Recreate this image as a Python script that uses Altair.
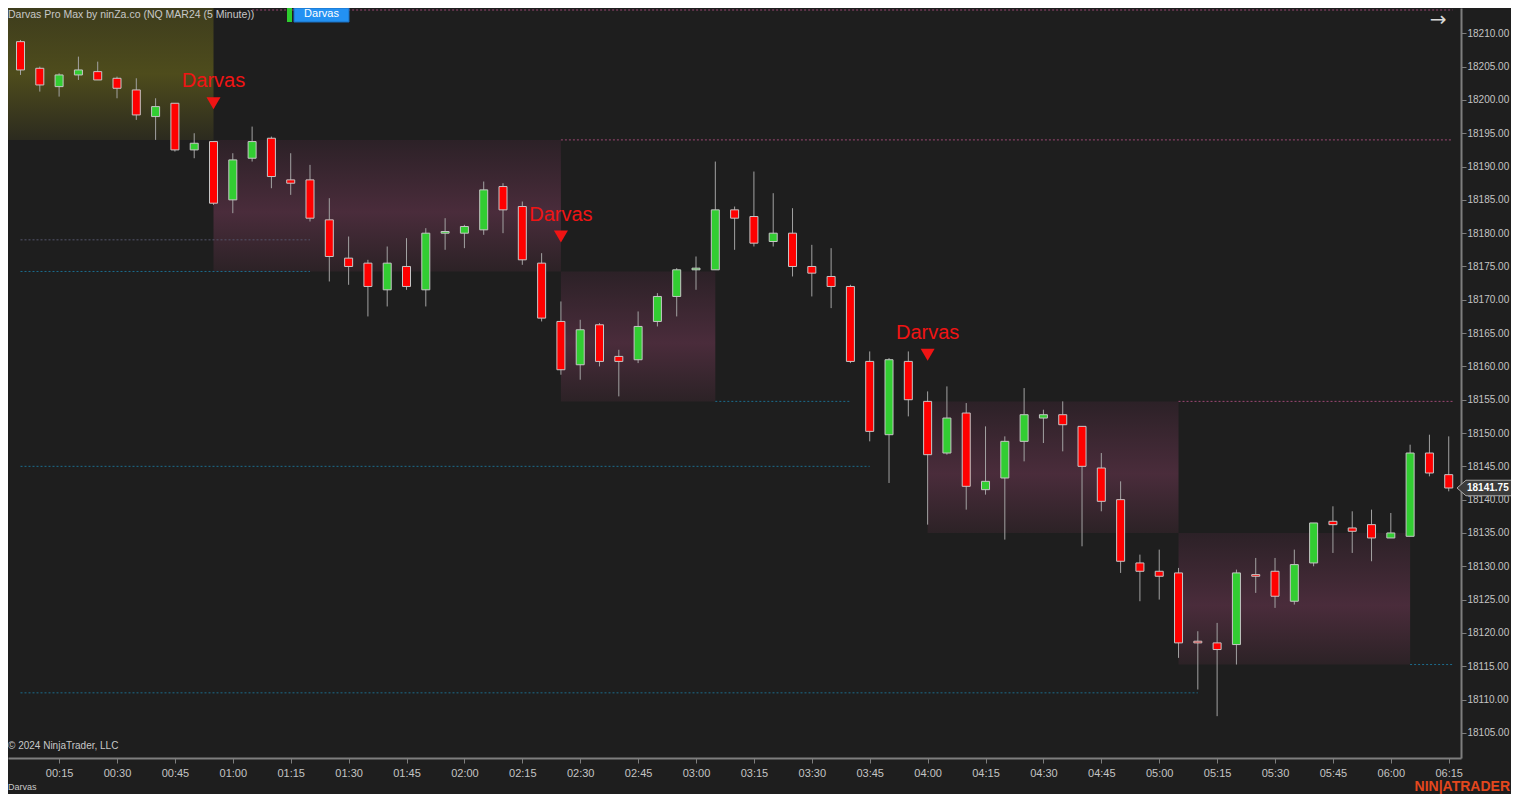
import altair as alt
import pandas as pd

# ---------------- data ----------------
# bar times (minutes after midnight), 5-minute bars 00:05 ... 06:15
bar_minutes = [5 * k for k in range(1, 76)]

opens = [18208.75, 18204.75, 18202.0, 18203.75, 18204.25, 18203.25, 18201.5, 18197.5, 18199.5, 18192.5,
         18193.75, 18185.0, 18191.25, 18194.25, 18188.0, 18188.0, 18182.0, 18176.25, 18175.5, 18171.5,
         18175.0, 18171.5, 18180.0, 18180.0, 18180.5, 18187.0, 18184.0, 18175.5, 18166.75, 18160.25,
         18166.25, 18161.5, 18161.0, 18166.75, 18170.5, 18174.5, 18174.5, 18183.5, 18182.5, 18178.75,
         18180.0, 18175.0, 18173.5, 18172.0, 18160.75, 18149.75, 18160.75, 18154.75, 18147.0, 18153.0,
         18141.5, 18143.25, 18148.75, 18152.25, 18152.75, 18151.0, 18144.75, 18140.0, 18130.5, 18129.25,
         18129.0, 18118.75, 18118.5, 18118.25, 18128.75, 18129.25, 18124.75, 18130.5, 18136.75, 18135.75,
         18136.25, 18134.25, 18134.5, 18147.0, 18143.75]
highs = [18209.0, 18205.0, 18204.0, 18206.5, 18205.75, 18203.5, 18203.25, 18200.25, 18199.5, 18195.0,
         18193.75, 18192.0, 18196.0, 18194.5, 18192.0, 18190.25, 18185.25, 18179.5, 18176.0, 18178.0,
         18179.25, 18180.75, 18182.25, 18181.25, 18187.75, 18187.5, 18184.75, 18177.0, 18169.75, 18167.0,
         18166.5, 18162.5, 18168.25, 18171.0, 18174.75, 18176.5, 18190.75, 18184.0, 18189.25, 18186.0,
         18183.75, 18178.25, 18177.75, 18172.25, 18162.25, 18161.25, 18162.25, 18156.25, 18157.0, 18154.5,
         18151.0, 18149.5, 18156.75, 18153.5, 18154.75, 18151.0, 18147.0, 18142.75, 18131.75, 18132.5,
         18129.75, 18120.25, 18121.5, 18129.5, 18131.25, 18131.25, 18132.5, 18136.5, 18139.0, 18138.25,
         18138.5, 18138.0, 18148.25, 18149.75, 18149.5]
lows = [18203.75, 18201.25, 18200.5, 18203.0, 18203.0, 18200.25, 18197.0, 18194.0, 18192.25, 18191.25,
        18184.25, 18183.0, 18190.75, 18186.75, 18185.75, 18181.75, 18172.75, 18172.25, 18167.5, 18169.0,
        18171.5, 18169.0, 18177.5, 18177.75, 18179.75, 18180.0, 18175.25, 18166.75, 18158.75, 18158.0,
        18160.0, 18155.5, 18160.5, 18166.0, 18167.5, 18171.5, 18174.5, 18177.5, 18178.0, 18178.0,
        18173.5, 18170.5, 18168.75, 18160.5, 18148.75, 18142.5, 18152.5, 18136.25, 18146.75, 18138.5,
        18140.75, 18134.0, 18145.75, 18148.5, 18147.25, 18133.0, 18138.25, 18129.0, 18124.75, 18125.0,
        18116.25, 18111.5, 18107.5, 18115.25, 18126.0, 18123.75, 18124.25, 18130.0, 18132.0, 18132.0,
        18130.75, 18134.25, 18134.5, 18143.5, 18141.25]
closes = [18204.5, 18202.25, 18203.75, 18204.5, 18203.0, 18201.75, 18197.75, 18199.0, 18192.5, 18193.5,
          18184.5, 18191.0, 18193.75, 18188.5, 18187.5, 18182.25, 18176.5, 18175.0, 18172.0, 18175.5,
          18172.0, 18180.0, 18180.25, 18181.0, 18186.5, 18183.5, 18176.0, 18167.25, 18159.5, 18165.5,
          18160.75, 18160.75, 18166.0, 18170.5, 18174.5, 18174.75, 18183.5, 18182.25, 18178.5, 18180.0,
          18175.0, 18174.0, 18172.0, 18160.75, 18150.25, 18161.0, 18155.0, 18146.75, 18152.25, 18142.0,
          18142.75, 18148.75, 18152.75, 18152.75, 18151.25, 18145.0, 18139.75, 18130.75, 18129.25, 18128.5,
          18118.5, 18118.5, 18117.5, 18129.0, 18128.5, 18125.5, 18130.25, 18136.5, 18136.25, 18135.25,
          18134.25, 18135.0, 18147.0, 18144.0, 18141.75]

# Darvas boxes (start minute, end minute, top, bottom)
box_start = [55, 145, 240, 305]
box_end = [145, 185, 305, 365]
box_top = [18194.0, 18174.25, 18154.75, 18135.0]
box_bottom = [18174.25, 18154.75, 18135.0, 18115.25]
# initial (olive) box
olive_start = [0]
olive_end = [55]
olive_top = [18216.0]
olive_bottom = [18194.0]

# dotted level lines
lvl_start = [65, 145, 5, 5, 185, 5, 305, 365, 5]
lvl_end = [376, 376, 80, 80, 220, 225, 376, 376, 310]
lvl_price = [18213.5, 18194.0, 18179.0, 18174.25, 18154.75, 18145.0, 18154.75, 18115.25, 18111.0]
lvl_color = ["#9c4874", "#9c4874", "#54566c", "#1c6c8c", "#1c6c8c", "#1c6c8c", "#9c4874", "#1c6c8c", "#1c6c8c"]

# Darvas signal markers
sig_minute = [55, 145, 240]
sig_price = [18199.5, 18179.5, 18161.75]
sig_label = ["Darvas", "Darvas", "Darvas"]

last_price = [18141.75]

x_ticks = list(range(15, 376, 15))
y_ticks = list(range(18105, 18211, 5))

# ---------------- build ----------------
df = pd.DataFrame({"t": bar_minutes, "o": opens, "h": highs, "l": lows, "c": closes})
df["dir"] = ["up" if c >= o else "down" for o, c in zip(opens, closes)]
boxes = pd.DataFrame({"s": box_start, "e": box_end, "top": box_top, "bot": box_bottom})
olive = pd.DataFrame({"s": olive_start, "e": olive_end, "top": olive_top, "bot": olive_bottom})
levels = pd.DataFrame({"s": lvl_start, "e": lvl_end, "p": lvl_price, "col": lvl_color})
sigs = pd.DataFrame({"t": sig_minute, "p": sig_price, "lab": sig_label})
lastdf = pd.DataFrame({"p": last_price, "lab": [f"{v:.2f}" for v in last_price]})

XDOM = [1.76, 378.18]
YDOM = [18101.22, 18213.8]
AXC = "#7e7e7e"
LBL = "#c4c4c4"
FONT = "Liberation Sans"

xaxis = alt.Axis(values=x_ticks, labelExpr="timeFormat(datetime(2024, 0, 1, 0, datum.value), '%H:%M')",
                 title=None, grid=False, domainColor=AXC, domainWidth=2, tickColor=AXC, tickSize=5,
                 labelColor=LBL, labelFont=FONT, labelFontSize=11, labelPadding=4, labelFlush=False)
yaxis = alt.Axis(orient="right", values=y_ticks, format=".2f", title=None, grid=False,
                 domainColor=AXC, domainWidth=2, tickColor=AXC, tickSize=5, labelColor=LBL,
                 labelFont=FONT, labelFontSize=10, labelPadding=1)
xs = alt.Scale(domain=XDOM, nice=False, zero=False, padding=0)
ys = alt.Scale(domain=YDOM, nice=False, zero=False, padding=0)


def X(f):
    return alt.X(f, type="quantitative", scale=xs, axis=xaxis)


def Y(f):
    return alt.Y(f, type="quantitative", scale=ys, axis=yaxis)


def grad(c_edge1, c_mid, c_edge2):
    return alt.Gradient(gradient="linear", x1=0, x2=0, y1=0, y2=1,
                        stops=[alt.GradientStop(color=c_edge1, offset=0),
                               alt.GradientStop(color=c_mid, offset=0.55),
                               alt.GradientStop(color=c_edge2, offset=1)])


olive_layer = alt.Chart(olive).mark_rect(clip=True, color=grad("#3a391d", "#4e4c1c", "#2c2b1f")).encode(
    x=X("s"), x2="e", y=Y("top"), y2="bot")
box_layer = alt.Chart(boxes).mark_rect(clip=True, color=grad("#2c2127", "#4a2c3b", "#2c2226")).encode(
    x=X("s"), x2="e", y=Y("top"), y2="bot")
lvl_layer = alt.Chart(levels).mark_rule(clip=True, strokeDash=[2, 2], strokeWidth=1).encode(
    x=X("s"), x2="e", y=Y("p"), color=alt.Color("col:N", scale=None))
wicks = alt.Chart(df).mark_rule(color="#a2a2a2", strokeWidth=1).encode(x=X("t"), y=Y("l"), y2="h")
bodies = alt.Chart(df).mark_bar(width=8, stroke="#c6c6c6", strokeWidth=1).encode(
    x=X("t"), y=Y("o"), y2="c",
    color=alt.Color("dir:N", scale=alt.Scale(domain=["up", "down"], range=["#32cd32", "#ff0000"]), legend=None))
tri = alt.Chart(sigs).mark_point(shape="M-1,-0.85 L1,-0.85 L0,0.85 Z", size=196, filled=True,
                                 color="#f01414", opacity=1).encode(x=X("t"), y=Y("p"))
sig_txt = alt.Chart(sigs).mark_text(font=FONT, fontSize=20, color="#f01414", dy=-22).encode(
    x=X("t"), y=Y("p"), text="lab:N")

tag = alt.Chart(lastdf).mark_point(shape="M-1,0 L-0.71,-0.25 L1,-0.25 L1,0.25 L-0.71,0.25 Z", size=3844,
                                   filled=True, fill="#3b3b3b", stroke="#a8a8a8", strokeWidth=1,
                                   opacity=1).encode(x=alt.value(1480), y=Y("p"))
tag_txt = alt.Chart(lastdf).mark_text(font=FONT, fontSize=10, fontWeight="bold", color="#ffffff",
                                      align="left").encode(x=alt.value(1459), y=Y("p"), text="lab:N")

# decorative texts (title, legend, footer)
deco = pd.DataFrame({"k": [0]})
title_txt = alt.Chart(deco).mark_text(font=FONT, fontSize=10.5, color="#c8c8c8", align="left", baseline="top",
                                      text="Darvas Pro Max by ninZa.co (NQ MAR24 (5 Minute))").encode(
    x=alt.value(0), y=alt.value(2))
leg_green = alt.Chart(deco).mark_rect(color="#2ecc2e").encode(
    x=alt.value(279), x2=alt.value(284), y=alt.value(0), y2=alt.value(14))
leg_blue = alt.Chart(deco).mark_rect(color="#2391f2", stroke="#1a6fc0", strokeWidth=1).encode(
    x=alt.value(286), x2=alt.value(341), y=alt.value(0), y2=alt.value(14))
leg_txt = alt.Chart(deco).mark_text(font=FONT, fontSize=11, color="#ffffff", text="Darvas").encode(
    x=alt.value(313.5), y=alt.value(6))
arrow = alt.Chart(deco).mark_text(font="DejaVu Sans", fontSize=20, color="#d8d8d8", text="→").encode(
    x=alt.value(1430), y=alt.value(12))
copy_txt = alt.Chart(deco).mark_text(font=FONT, fontSize=10, color="#c8c8c8", align="left",
                                     text="© 2024 NinjaTrader, LLC").encode(x=alt.value(0), y=alt.value(738))
foot_txt = alt.Chart(deco).mark_text(font=FONT, fontSize=9, color="#c8c8c8", align="left",
                                     text="Darvas").encode(x=alt.value(0), y=alt.value(779))
logo = alt.Chart(deco).mark_text(font=FONT, fontSize=14, fontWeight="bold", color="#e4471d", align="right",
                                 text="NIN|ATRADER").encode(x=alt.value(1502), y=alt.value(779))

chart = alt.layer(
    olive_layer, box_layer, lvl_layer, wicks, bodies, tri, sig_txt, tag, tag_txt,
    title_txt, leg_green, leg_blue, leg_txt, arrow, copy_txt, foot_txt, logo
).properties(
    width=1453, height=750,
    autosize=alt.AutoSizeParams(type="none"),
    padding={"left": 0, "top": 0, "right": 50, "bottom": 36},
    background="#1e1e1e",
).configure_view(strokeWidth=0)

chart.save("out.html", embed_options={"renderer": "svg", "actions": False})
